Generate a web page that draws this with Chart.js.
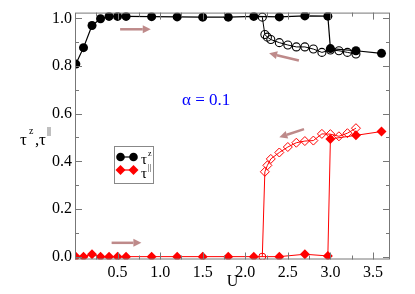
<!DOCTYPE html>
<html>
<head>
<meta charset="utf-8">
<script src="https://cdn.jsdelivr.net/npm/chart.js@4"></script>
<style>
  html, body { margin: 0; padding: 0; background: #fff; }
  canvas { display: block; }
</style>
</head>
<body>
<canvas id="chart" width="415" height="294"></canvas>
<script>
// forward sweep (increasing U)
var uForward = [0.01, 0.1, 0.2, 0.3, 0.4, 0.5, 0.6, 0.9, 1.2, 1.5, 1.8, 2.1, 2.4, 2.7, 2.97, 3.0, 3.3, 3.6];
var tauZForward = [0.808, 0.877, 0.97, 0.998, 1.008, 1.008, 1.008, 1.007, 1.006, 1.005, 1.005, 1.008, 1.006, 1.01, 1.009, 0.873, 0.864, 0.853];
var tauParForward = [0.0, 0.0, 0.01, 0.0, 0.0, 0.0, 0.0, 0.0, 0.0, 0.0, 0.0, 0.0, 0.0, 0.01, 0.003, 0.494, 0.509, 0.525];
// backward sweep (decreasing U)
var uBackward = [3.3, 3.2, 3.1, 3.0, 2.9, 2.8, 2.7, 2.6, 2.5, 2.4, 2.3, 2.26, 2.23, 2.2];
var tauZBackward = [0.850, 0.857, 0.864, 0.867, 0.857, 0.871, 0.880, 0.880, 0.888, 0.898, 0.911, 0.921, 0.932, 1.005];
var tauParBackward = [0.539, 0.518, 0.505, 0.514, 0.515, 0.487, 0.485, 0.478, 0.46, 0.437, 0.41, 0.383, 0.356, 0.0];

var xTicks = [0.5, 1.0, 1.5, 2.0, 2.5, 3.0, 3.5];
var yTicks = [0.0, 0.2, 0.4, 0.6, 0.8, 1.0];

// arrows in data coords: [x0, y0, x1, y1], head at x1,y1
var arrows = [
    [0.53, 0.954, 0.89, 0.954],
    [2.63, 0.823, 2.28, 0.853],
    [2.69, 0.535, 2.40, 0.501],
    [0.43, 0.058, 0.78, 0.058]
];

function pts(xs, ys) {
    return xs.map(function (x, i) { return { x: x, y: ys[i] }; });
}

var SERIF = '"Liberation Serif", "DejaVu Serif", serif';
var ARROW = 'rgb(190, 138, 138)';

var decorations = {
    id: 'decorations',
    afterDatasetsDraw: function (chart) {
        var ctx = chart.ctx;
        var xs = chart.scales.x, ys = chart.scales.y;
        var a = chart.chartArea;
        ctx.save();

        // frame + inward ticks
        ctx.strokeStyle = '#777';
        ctx.lineWidth = 1;
        ctx.strokeRect(a.left + 0.5, a.top + 0.5, a.right - a.left - 1, a.bottom - a.top - 1);
        ctx.beginPath();
        for (var v = 0.25; v < 3.7; v += 0.25) {
            var px = Math.round(xs.getPixelForValue(v)) + 0.5;
            var len = (Math.abs(v * 2 - Math.round(v * 2)) < 1e-6) ? 7 : 4;
            ctx.moveTo(px, a.bottom); ctx.lineTo(px, a.bottom - len);
            ctx.moveTo(px, a.top); ctx.lineTo(px, a.top + len);
        }
        for (var k = 0; k <= 10; k++) {
            var val = k * 0.1;
            var py = Math.round(ys.getPixelForValue(val)) + 0.5;
            var l2 = (k % 2 === 0) ? 7 : 4;
            ctx.moveTo(a.left, py); ctx.lineTo(a.left + l2, py);
            ctx.moveTo(a.right, py); ctx.lineTo(a.right - l2, py);
        }
        ctx.stroke();

        // arrows
        ctx.strokeStyle = ARROW;
        ctx.fillStyle = ARROW;
        ctx.lineWidth = 2.5;
        arrows.forEach(function (ar) {
            var x0 = xs.getPixelForValue(ar[0]), y0 = ys.getPixelForValue(ar[1]);
            var x1 = xs.getPixelForValue(ar[2]), y1 = ys.getPixelForValue(ar[3]);
            var ang = Math.atan2(y1 - y0, x1 - x0);
            var hl = 8, hw = 4;
            var bx = x1 - hl * Math.cos(ang), by = y1 - hl * Math.sin(ang);
            ctx.beginPath();
            ctx.moveTo(x0, y0); ctx.lineTo(bx, by);
            ctx.stroke();
            ctx.beginPath();
            ctx.moveTo(x1, y1);
            ctx.lineTo(bx + hw * Math.sin(ang), by - hw * Math.cos(ang));
            ctx.lineTo(bx - hw * Math.sin(ang), by + hw * Math.cos(ang));
            ctx.closePath();
            ctx.fill();
        });

        // alpha label
        ctx.fillStyle = '#0000ff';
        ctx.font = '17px ' + SERIF;
        ctx.textBaseline = 'alphabetic';
        ctx.textAlign = 'left';
        ctx.fillText('\u03b1 = 0.1', 182, 105);

        // y axis title
        ctx.fillStyle = '#000';
        ctx.font = '17px ' + SERIF;
        ctx.fillText('\u03c4', 20, 145);
        ctx.fillText(',', 35, 145);
        ctx.fillText('\u03c4', 39, 145);
        ctx.font = '10px ' + SERIF;
        ctx.fillText('z', 29, 134);
        ctx.fillText('||', 47, 134);

        // legend box
        ctx.strokeStyle = '#888';
        ctx.lineWidth = 1;
        ctx.strokeRect(114.5, 146.5, 39, 37);
        // entry 1
        ctx.strokeStyle = '#000';
        ctx.lineWidth = 1.2;
        ctx.beginPath(); ctx.moveTo(120.5, 157); ctx.lineTo(133.5, 157); ctx.stroke();
        ctx.fillStyle = '#000';
        [120.5, 133.5].forEach(function (cx) {
            ctx.beginPath(); ctx.arc(cx, 157, 4.3, 0, Math.PI * 2); ctx.fill();
        });
        // entry 2
        ctx.strokeStyle = '#ff0000';
        ctx.beginPath(); ctx.moveTo(120.5, 170); ctx.lineTo(133.5, 170); ctx.stroke();
        ctx.fillStyle = '#ff0000';
        [120.5, 133.5].forEach(function (cx) {
            ctx.beginPath();
            ctx.moveTo(cx, 165); ctx.lineTo(cx + 5, 170); ctx.lineTo(cx, 175); ctx.lineTo(cx - 5, 170);
            ctx.closePath(); ctx.fill();
        });
        ctx.fillStyle = '#000';
        ctx.font = '15px ' + SERIF;
        ctx.fillText('\u03c4', 141, 164);
        ctx.fillText('\u03c4', 141, 178);
        ctx.font = '8px ' + SERIF;
        ctx.fillText('z', 148, 156);
        ctx.fillText('||', 148, 170);

        ctx.restore();
    }
};

new Chart(document.getElementById('chart').getContext('2d'), {
    type: 'scatter',
    data: {
        datasets: [{
            label: 'tauZ forward',
            data: pts(uForward, tauZForward),
            showLine: true,
            borderColor: '#000',
            borderWidth: 1.2,
            pointStyle: 'circle',
            pointRadius: 4.5,
            pointBackgroundColor: '#000',
            pointBorderColor: '#000',
            pointBorderWidth: 0
        }, {
            label: 'tauPar forward',
            data: pts(uForward, tauParForward),
            showLine: true,
            borderColor: '#ff0000',
            borderWidth: 1,
            pointStyle: 'rectRot',
            pointRadius: 5,
            pointBackgroundColor: '#ff0000',
            pointBorderColor: '#ff0000',
            pointBorderWidth: 0
        }, {
            label: 'tauZ backward',
            data: pts(uBackward, tauZBackward),
            showLine: true,
            borderColor: '#000',
            borderWidth: 1,
            pointStyle: 'circle',
            pointRadius: 4,
            pointBackgroundColor: 'rgba(0,0,0,0)',
            pointBorderColor: '#000',
            pointBorderWidth: 1.1
        }, {
            label: 'tauPar backward',
            data: pts(uBackward, tauParBackward),
            showLine: true,
            borderColor: '#ff0000',
            borderWidth: 1,
            pointStyle: uBackward.map(function (u, i) { return i === uBackward.length - 1 ? 'circle' : 'rectRot'; }),
            pointRadius: uBackward.map(function (u, i) { return i === uBackward.length - 1 ? 3.5 : 4.5; }),
            pointBackgroundColor: 'rgba(0,0,0,0)',
            pointBorderColor: '#ff0000',
            pointBorderWidth: 1
        }]
    },
    options: {
        responsive: false,
        animation: false,
        maintainAspectRatio: false,
        layout: { padding: { top: 5.5, right: 25, left: 0, bottom: 0 } },
        plugins: {
            legend: { display: false },
            tooltip: { enabled: false }
        },
        scales: {
            x: {
                type: 'linear',
                min: 0,
                max: 3.7,
                afterFit: function (s) { s.height = 34.5; },
                afterBuildTicks: function (s) { s.ticks = xTicks.map(function (v) { return { value: v }; }); },
                grid: { display: false, drawTicks: false },
                border: { display: false },
                ticks: {
                    padding: 4,
                    color: '#000',
                    font: { family: SERIF, size: 16 },
                    callback: function (v) { return v.toFixed(1); }
                },
                title: {
                    display: true,
                    text: 'U',
                    color: '#000',
                    font: { family: SERIF, size: 16 },
                    padding: { top: 0, bottom: 3 }
                }
            },
            y: {
                type: 'linear',
                min: -0.012,
                max: 1.024,
                afterFit: function (s) { s.width = 75; },
                afterBuildTicks: function (s) { s.ticks = yTicks.map(function (v) { return { value: v }; }); },
                grid: { display: false, drawTicks: false },
                border: { display: false },
                ticks: {
                    padding: 3,
                    color: '#000',
                    font: { family: SERIF, size: 16 },
                    callback: function (v) { return v.toFixed(1); }
                }
            }
        }
    },
    plugins: [decorations]
});
</script>
</body>
</html>
